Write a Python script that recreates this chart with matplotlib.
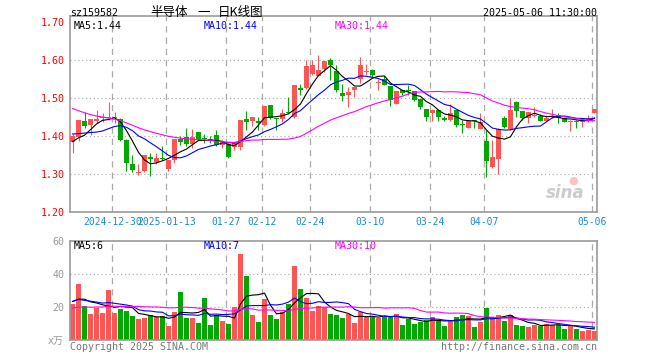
import matplotlib

matplotlib.use("Agg")
import matplotlib.pyplot as plt
import numpy as np
import pandas as pd

# ── daily candles, 2024-12-19 .. 2025-05-06 (88 trading days) ──
open_ = [
    1.383, 1.397, 1.438, 1.427, 1.439, 1.445, 1.446, 1.447, 1.443, 1.388,
    1.326, 1.301, 1.307, 1.343, 1.330, 1.341, 1.311, 1.335, 1.391, 1.395,
    1.377, 1.409, 1.393, 1.390, 1.401, 1.374, 1.377, 1.370, 1.370, 1.443,
    1.437, 1.437, 1.427, 1.480, 1.446, 1.443, 1.463, 1.449, 1.526, 1.524,
    1.563, 1.556, 1.574, 1.598, 1.570, 1.512, 1.506, 1.519, 1.550, 1.567,
    1.572, 1.537, 1.550, 1.530, 1.484, 1.519, 1.520, 1.517, 1.496, 1.469,
    1.458, 1.467, 1.444, 1.442, 1.468, 1.429, 1.421, 1.440, 1.416, 1.386,
    1.317, 1.339, 1.447, 1.416, 1.489, 1.465, 1.445, 1.452, 1.451, 1.439,
    1.449, 1.455, 1.447, 1.435, 1.437, 1.436, 1.442, 1.460,
]
high = [
    1.405, 1.440, 1.462, 1.443, 1.467, 1.460, 1.489, 1.462, 1.445, 1.390,
    1.348, 1.326, 1.348, 1.354, 1.355, 1.372, 1.335, 1.390, 1.400, 1.421,
    1.416, 1.409, 1.404, 1.400, 1.414, 1.389, 1.379, 1.383, 1.441, 1.465,
    1.448, 1.448, 1.477, 1.480, 1.447, 1.470, 1.502, 1.532, 1.535, 1.598,
    1.598, 1.611, 1.596, 1.603, 1.585, 1.535, 1.528, 1.528, 1.607, 1.588,
    1.576, 1.550, 1.556, 1.530, 1.518, 1.521, 1.532, 1.517, 1.496, 1.469,
    1.471, 1.467, 1.451, 1.482, 1.468, 1.440, 1.442, 1.442, 1.460, 1.414,
    1.388, 1.419, 1.451, 1.500, 1.491, 1.465, 1.462, 1.476, 1.456, 1.453,
    1.469, 1.458, 1.447, 1.442, 1.442, 1.440, 1.453, 1.471,
]
low = [
    1.354, 1.386, 1.420, 1.401, 1.432, 1.436, 1.440, 1.433, 1.386, 1.307,
    1.304, 1.297, 1.305, 1.294, 1.326, 1.335, 1.307, 1.328, 1.375, 1.372,
    1.368, 1.389, 1.381, 1.381, 1.372, 1.368, 1.342, 1.361, 1.363, 1.414,
    1.425, 1.414, 1.424, 1.443, 1.414, 1.436, 1.456, 1.447, 1.506, 1.522,
    1.559, 1.556, 1.568, 1.546, 1.515, 1.491, 1.474, 1.502, 1.537, 1.559,
    1.553, 1.521, 1.532, 1.478, 1.482, 1.506, 1.506, 1.491, 1.471, 1.439,
    1.439, 1.439, 1.439, 1.439, 1.423, 1.407, 1.421, 1.421, 1.416, 1.291,
    1.314, 1.300, 1.421, 1.414, 1.449, 1.441, 1.432, 1.449, 1.439, 1.437,
    1.446, 1.433, 1.436, 1.412, 1.421, 1.423, 1.436, 1.458,
]
close = [
    1.399, 1.440, 1.425, 1.443, 1.444, 1.448, 1.450, 1.449, 1.389, 1.328,
    1.310, 1.303, 1.348, 1.338, 1.341, 1.337, 1.335, 1.390, 1.383, 1.377,
    1.395, 1.389, 1.391, 1.386, 1.374, 1.383, 1.344, 1.379, 1.440, 1.436,
    1.448, 1.434, 1.477, 1.445, 1.444, 1.460, 1.460, 1.532, 1.519, 1.582,
    1.585, 1.572, 1.596, 1.585, 1.519, 1.504, 1.515, 1.528, 1.585, 1.568,
    1.559, 1.539, 1.532, 1.493, 1.518, 1.511, 1.518, 1.493, 1.475, 1.449,
    1.468, 1.449, 1.442, 1.460, 1.427, 1.427, 1.439, 1.438, 1.436, 1.333,
    1.344, 1.416, 1.423, 1.467, 1.465, 1.445, 1.462, 1.454, 1.439, 1.447,
    1.451, 1.447, 1.436, 1.437, 1.435, 1.440, 1.447, 1.471,
]
# volume, 10k lots
volume = [
    22.0, 34.0, 20.8, 16.0, 19.6, 16.6, 30.4, 16.6, 18.8, 17.8,
    14.8, 13.0, 13.6, 15.2, 14.0, 14.8, 8.8, 17.0, 29.2, 13.6,
    13.6, 10.6, 25.6, 9.4, 15.4, 11.8, 10.0, 20.2, 52.0, 38.8,
    15.2, 11.2, 25.0, 15.4, 13.0, 17.2, 22.0, 44.8, 31.0, 25.6,
    17.8, 20.8, 20.2, 16.0, 15.4, 13.2, 16.0, 10.6, 17.2, 14.2,
    14.2, 13.6, 14.2, 14.8, 16.0, 9.4, 13.0, 10.0, 11.2, 12.4,
    14.2, 11.8, 8.8, 11.8, 14.2, 15.4, 14.8, 8.2, 11.2, 19.6,
    13.8, 15.4, 11.8, 15.4, 9.4, 8.8, 8.2, 9.4, 8.8, 10.0,
    9.4, 9.4, 7.0, 9.4, 7.0, 5.8, 6.4, 5.8,
]
# the 29 sessions before the window, only feed the moving averages
prior_close = [
    1.61, 1.59, 1.59, 1.55, 1.53, 1.54, 1.53, 1.51, 1.50, 1.49,
    1.51, 1.51, 1.48, 1.47, 1.46, 1.45, 1.47, 1.45, 1.43, 1.42,
    1.43, 1.41, 1.43, 1.43, 1.42, 1.39, 1.39, 1.37, 1.37,
]
prior_volume = [
    18, 16, 21, 15, 17, 14, 19, 22, 16, 18,
    13, 20, 17, 15, 21, 18, 16, 19, 14, 19,
    22, 26, 21, 25, 23, 27, 21, 24, 23,
]

tick_idx = [7, 16, 26, 32, 40, 50, 60, 69, 87]
tick_labels = ["2024-12-30", "2025-01-13", "01-27", "02-12", "02-24",
               "03-10", "03-24", "04-07", "05-06"]
price_ticks = [1.20, 1.30, 1.40, 1.50, 1.60, 1.70]
vol_ticks = [20, 40, 60]

RED = "#ff5454"
GREEN = "#00a800"
GRID = "#aaaaaa"
FRAME = "#999999"
XLAB = "#1a8ad4"
MONO = ["DejaVu Sans Mono", "Noto Sans CJK SC"]

W, H = 660, 360
plt.rcParams["font.family"] = MONO
plt.rcParams["font.size"] = 7.2

fig = plt.figure(figsize=(W / 100, H / 100), dpi=100)
fig.patch.set_facecolor("white")


def px_axes(left, top, right, bottom):
    return fig.add_axes([left / W, 1 - bottom / H, (right - left) / W, (bottom - top) / H])


def ftext(x, y, s, **kw):
    fig.text(x / W, 1 - y / H, s, va="center", **kw)


def moving(prior, values, n):
    s = pd.Series(list(prior) + list(values), dtype=float)
    return s.rolling(n).mean().iloc[len(prior):].to_numpy()


x = np.arange(len(close))
o = np.array(open_)
c = np.array(close)
up = c >= o
colors = np.where(up, RED, GREEN)
grid_x = np.array(tick_idx) - 0.37
xlim = (-0.367, 87.47)

ax = px_axes(70.3, 16, 597.3, 211.5)
axv = px_axes(70.3, 240.7, 597.3, 340.3)

for a in (ax, axv):
    a.set_xlim(*xlim)
    for sp in a.spines.values():
        sp.set_color(FRAME)
        sp.set_linewidth(1.2)
    for gx in grid_x:
        a.axvline(gx, color=GRID, lw=0.9, ls=(0, (5, 4)), zorder=0)
    a.tick_params(length=0)

# ── price panel ──
ax.set_ylim(1.20, 1.7145)
for v in price_ticks[1:-1]:
    ax.axhline(v, color=GRID, lw=0.8, ls=(0, (1, 2.5)), zorder=0)

ax.vlines(x, low, high, colors=colors, lw=0.8, zorder=2)
body_lo = np.minimum(o, c)
body_h = np.maximum(np.abs(c - o), 0.003)
ax.bar(x, body_h, bottom=body_lo, width=0.8, color=colors, linewidth=0, zorder=3)

ax.plot(x, moving(prior_close, close, 5), color="black", lw=0.8, zorder=4)
ax.plot(x, moving(prior_close, close, 10), color="#0000ff", lw=0.8, zorder=4)
ax.plot(x, moving(prior_close, close, 30), color="#ff00ff", lw=0.8, zorder=4)

ax.set_yticks(price_ticks)
ax.set_yticklabels([f"{v:.2f}" for v in price_ticks], color="red")
ax.set_xticks(grid_x)
ax.set_xticklabels(tick_labels, color=XLAB, fontsize=7.0)
ax.tick_params(axis="y", pad=4)
ax.tick_params(axis="x", pad=4)

# sina watermark
ax.text(0.975, 0.095, "sina", transform=ax.transAxes, ha="right", va="center",
        fontsize=12, fontweight="bold", style="italic", color="#cccccc",
        family="DejaVu Sans", zorder=1)
ax.text(0.955, 0.16, "●", transform=ax.transAxes, ha="center", va="center",
        fontsize=8, color="#f6c4c4", family="DejaVu Sans", zorder=1)

# ── volume panel ──
axv.set_ylim(0, 60)
for v in (20, 40):
    axv.axhline(v, color=GRID, lw=0.8, ls=(0, (1, 2.5)), zorder=0)
axv.bar(x, volume, width=0.83, color=colors, linewidth=0, zorder=2)
axv.plot(x, moving(prior_volume, volume, 5), color="black", lw=0.8, zorder=3)
axv.plot(x, moving(prior_volume, volume, 10), color="#0000ff", lw=0.8, zorder=3)
axv.plot(x, moving(prior_volume, volume, 30), color="#ff00ff", lw=0.8, zorder=3)
axv.set_yticks(vol_ticks)
axv.set_yticklabels([str(v) for v in vol_ticks], color=FRAME)
axv.set_xticks([])
axv.tick_params(axis="y", pad=4)

# ── header and footer texts ──
ftext(70, 13, "sz159582", ha="left")
ftext(150, 12.5, "半导体", ha="left", fontsize=9, family="Noto Sans CJK SC")
ftext(197, 12.5, "一", ha="left", fontsize=9, family="Noto Sans CJK SC")
ftext(218, 12.5, "日K线图", ha="left", fontsize=9, family="Noto Sans CJK SC")
ftext(597, 13, "2025-05-06 11:30:00", ha="right")

ftext(74, 26, "MA5:1.44", ha="left", color="black")
ftext(204, 26, "MA10:1.44", ha="left", color="#0000ff")
ftext(334.7, 26, "MA30:1.44", ha="left", color="#ff00ff")

ftext(74, 246, "MA5:6", ha="left", color="black")
ftext(204, 246, "MA10:7", ha="left", color="#0000ff")
ftext(334.7, 246, "MA30:10", ha="left", color="#ff00ff")

ftext(64, 341, "x万", ha="right", color=FRAME, family=MONO)
ftext(70, 346.5, "Copyright 2025 SINA.COM", ha="left", color="#777777")
ftext(597, 346.5, "http://finance.sina.com.cn", ha="right", color="#777777")

fig.savefig("out.png", dpi=100, facecolor="white")
